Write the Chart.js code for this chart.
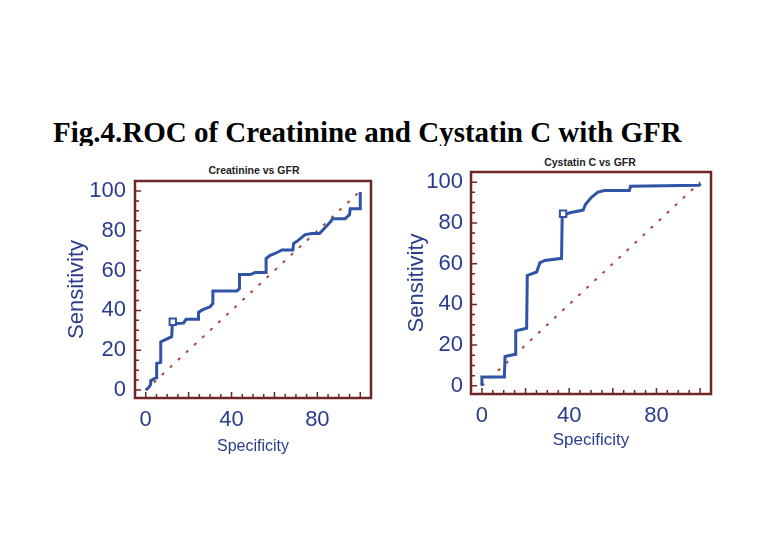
<!DOCTYPE html>
<html><head><meta charset="utf-8">
<script src="https://cdn.jsdelivr.net/npm/chart.js@4.4.1/dist/chart.umd.min.js"></script>
<style>
body{margin:0;background:#fff;width:779px;height:551px;overflow:hidden;position:relative;font-family:"Liberation Sans",Arial,sans-serif}
#title{position:absolute;left:53px;top:116px;height:30px;overflow:hidden;white-space:nowrap;font-family:"Liberation Serif","Times New Roman",serif;font-weight:bold;font-size:29px;line-height:32px;color:#000}
.sub{position:absolute;width:200px;text-align:center;font-weight:bold;font-size:10.5px;line-height:12px;color:#222}
canvas{position:absolute}
</style></head><body>
<div id="title">Fig.4.ROC of Creatinine and Cystatin C with GFR</div>
<div class="sub" style="left:154px;top:164px">Creatinine vs GFR</div>
<div class="sub" style="left:490px;top:156px">Cystatin C vs GFR</div>
<canvas id="c1" width="400" height="320" style="left:0;top:150px;width:400px;height:320px"></canvas>
<canvas id="c2" width="379" height="330" style="left:400px;top:140px;width:379px;height:330px"></canvas>
<script>
// ---- data ----
const creatX = [0,1.6,2.3,2.3,4.8,5.1,7.0,7.0,12.1,12.4,14.5,17.6,18.8,24.6,24.6,26.1,30.0,31.3,31.3,42.5,43.7,43.7,48.7,51.0,56.1,56.1,58.0,60.3,63.5,68.6,68.9,70.5,74.3,77.4,81.0,82.9,86.0,87.2,93.0,95.0,95.3,100,100];
const creatY = [0,1.5,2.8,4.7,6.2,13.4,13.9,24.2,26.8,33.4,33.4,33.6,35.5,35.5,39.0,40.1,41.8,43.5,49.8,49.8,51.0,58.0,58.0,59.0,59.0,66.1,67.7,68.6,70.4,70.4,73.6,74.7,78.1,78.6,78.6,80.8,84.4,86.1,86.1,88.1,91.1,91.1,99.5];
const creatCut = [12.6, 34.3];
const cysX = [0,0,10.3,10.6,15.2,15.5,20.5,20.8,25.1,26.6,28.9,36.5,36.8,40.3,42.6,46.4,47.5,50.2,53.2,56.2,67.6,68.1,99.5,100.3];
const cysY = [0,4.4,4.4,14.4,15.5,27.0,28.3,54.2,55.9,60.5,61.6,62.6,83.3,85.0,85.5,86.3,89.1,92.6,95.1,95.9,95.9,98.0,98.5,99.2];
const cysCut = [37.2, 84.5];
const diagX = [0,100];
const diagY = [0,100];
const xTickVals = [0,40,80];
const yTickVals = [0,20,40,60,80,100];
const xTitle = 'Specificity';
const yTitle = 'Sensitivity';

const BLUE_TXT = '#2a3d8c';
const LINE = '#2f53a5';
const FRAME = '#6e2626';
const DIAG = '#a8483e';
const FAM = "'Liberation Sans', Arial, sans-serif";

const framePlugin = {
  id:'frame',
  afterDraw(chart){
    const {ctx, chartArea:a, scales} = chart;
    ctx.save();
    ctx.strokeStyle = FRAME;
    ctx.lineWidth = 1.5;
    ctx.beginPath();
    for(let v=0; v<=100; v+=5){
      const len = v%20===0 ? 6 : 4;
      const px = scales.x.getPixelForValue(v);
      ctx.moveTo(px, a.bottom); ctx.lineTo(px, a.bottom-len);
      const py = scales.y.getPixelForValue(v);
      ctx.moveTo(a.left, py); ctx.lineTo(a.left+len, py);
    }
    ctx.stroke();
    ctx.lineWidth = 2.5;
    ctx.strokeRect(a.left, a.top, a.right-a.left, a.bottom-a.top);
    ctx.restore();
  }
};

function pts(xs, ys){ return xs.map((x,i)=>({x, y:ys[i]})); }

function makeChart(id, xs, ys, cut, g){
  return new Chart(document.getElementById(id), {
    type:'scatter',
    data:{datasets:[
      {data:[{x:cut[0],y:cut[1]}], pointStyle:'rect', pointRadius:4.5, pointBackgroundColor:'#fff', pointBorderColor:LINE, pointBorderWidth:2, showLine:false, order:0},
      {data:pts(xs,ys), borderColor:LINE, borderWidth:3, pointRadius:0, showLine:true, fill:false, tension:0, order:1},
      {data:pts(diagX,diagY), borderColor:DIAG, borderWidth:2, borderDash:[3,8], pointRadius:0, showLine:true, fill:false, order:2}
    ]},
    options:{
      responsive:false, animation:false, devicePixelRatio:1,
      layout:{padding:{top:g.padTop, right:g.padRight, left:0, bottom:0}},
      plugins:{legend:{display:false}, tooltip:{enabled:false}, title:{display:false}},
      scales:{
        x:{type:'linear', min:-5, max:105,
          afterBuildTicks:s=>{ s.ticks = xTickVals.map(v=>({value:v})); },
          afterFit:s=>{ s.height = g.xHeight; },
          grid:{display:false, drawTicks:false}, border:{display:false},
          ticks:{autoSkip:false, maxRotation:0, padding:g.xTickPad, color:BLUE_TXT, font:{family:FAM, size:22}},
          title:{display:true, text:xTitle, color:BLUE_TXT, font:{family:FAM, size:g.xTitleSize}, padding:{top:0, bottom:g.xTitlePad}}
        },
        y:{type:'linear', min:-4, max:105,
          afterBuildTicks:s=>{ s.ticks = yTickVals.map(v=>({value:v})); },
          afterFit:s=>{ s.width = g.yWidth; },
          grid:{display:false, drawTicks:false}, border:{display:false},
          ticks:{autoSkip:false, padding:g.yTickPad, color:BLUE_TXT, font:{family:FAM, size:22}},
          title:{display:true, text:yTitle, color:BLUE_TXT, font:{family:FAM, size:22}, padding:{top:g.yTitlePad, bottom:0}}
        }
      }
    },
    plugins:[framePlugin]
  });
}

makeChart('c1', creatX, creatY, creatCut, {padTop:31, padRight:29, yWidth:135, xHeight:72, xTickPad:9, yTickPad:9, xTitleSize:16, xTitlePad:14, yTitlePad:64});
makeChart('c2', cysX, cysY, cysCut, {padTop:32, padRight:68, yWidth:71, xHeight:76, xTickPad:9, yTickPad:8, xTitleSize:17, xTitlePad:19, yTitlePad:4});
</script>
</body></html>
